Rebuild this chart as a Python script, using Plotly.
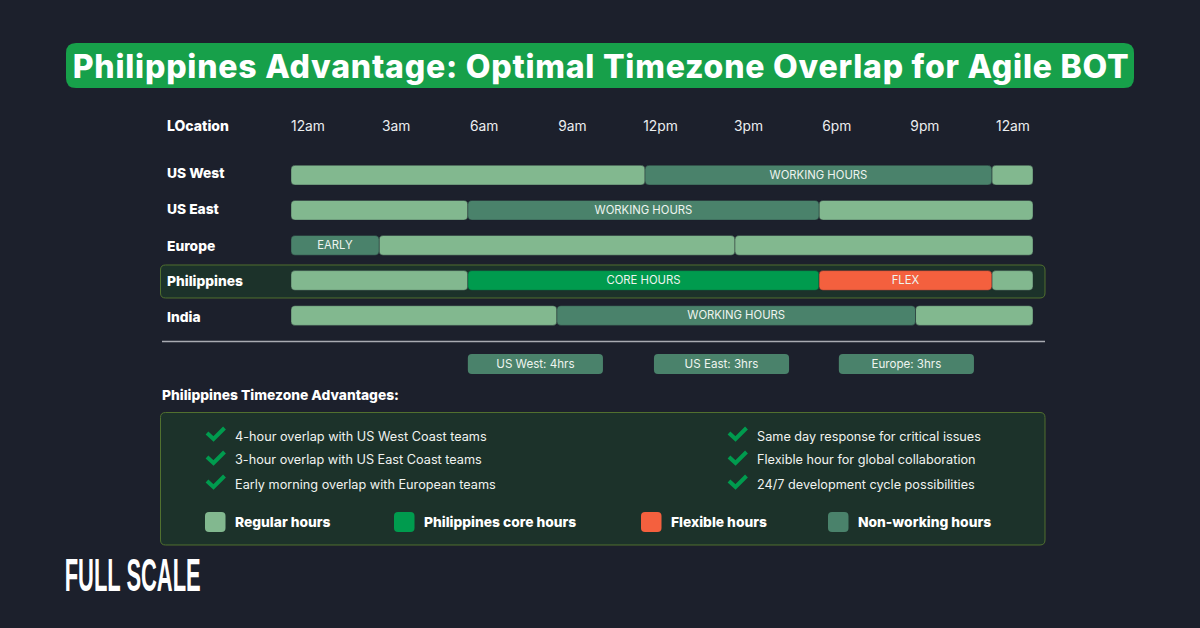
"""
Philippines timezone overlap chart
"""
import plotly.graph_objects as go

WIDTH = 1200
HEIGHT = 628

BG = "#1c202c"
REGULAR = "#82b88f"
WORKING = "#4a826b"
CORE = "#009b4e"
FLEX = "#f4603e"
PANEL = "#1c322a"
PANEL_LINE = "#51702f"
TITLE_GREEN = "#17a04a"
TEXT = "#ffffff"
BAR_TEXT = "#eef4ef"
FONT = "Inter"

title = "Philippines Advantage: Optimal Timezone Overlap for Agile BOT"

rows = ["US West", "US East", "Europe", "Philippines", "India"]
hour_ticks = [0, 3, 6, 9, 12, 15, 18, 21, 24]
hour_labels = ["12am", "3am", "6am", "9am", "12pm", "3pm", "6pm", "9pm", "12am"]

# segments, hours on the bar scale
seg_row = ["US West", "US West", "US West",
           "US East", "US East", "US East",
           "Europe", "Europe", "Europe",
           "Philippines", "Philippines", "Philippines", "Philippines",
           "India", "India", "India"]
seg_start = [0, 11.45, 22.67,
             0, 5.72, 17.08,
             0, 2.85, 14.36,
             0, 5.72, 17.08, 22.67,
             0, 8.6, 20.2]
seg_end = [11.45, 22.67, 24,
           5.72, 17.08, 24,
           2.85, 14.36, 24,
           5.72, 17.08, 22.67, 24,
           8.6, 20.2, 24]
seg_kind = ["regular", "working", "regular",
            "regular", "working", "regular",
            "working", "regular", "regular",
            "regular", "core", "flex", "regular",
            "regular", "working", "regular"]
seg_label = ["", "WORKING HOURS", "",
             "", "WORKING HOURS", "",
             "EARLY", "", "",
             "", "CORE HOURS", "FLEX", "",
             "", "WORKING HOURS", ""]
kind_colors = {"regular": REGULAR, "working": WORKING, "core": CORE, "flex": FLEX}

overlap_labels = ["US West: 4hrs", "US East: 3hrs", "Europe: 3hrs"]
overlap_start = [5.72, 11.74, 17.72]
overlap_span = [4.37, 4.37, 4.37]

advantages_left = ["4-hour overlap with US West Coast teams",
                   "3-hour overlap with US East Coast teams",
                   "Early morning overlap with European teams"]
advantages_right = ["Same day response for critical issues",
                    "Flexible hour for global collaboration",
                    "24/7 development cycle possibilities"]
legend_labels = ["Regular hours", "Philippines core hours", "Flexible hours", "Non-working hours"]
legend_colors = [REGULAR, CORE, FLEX, WORKING]
legend_x = [205, 394, 641, 828]


def px(x):
    return x / WIDTH


def py(y):
    return 1 - y / HEIGHT


def rounded(x0, y0, x1, y1, r):
    """Rounded box in paper coordinates, given in pixels."""
    pts = [("M", x0 + r, y0), ("L", x1 - r, y0), ("Q", x1, y0, x1, y0 + r),
           ("L", x1, y1 - r), ("Q", x1, y1, x1 - r, y1), ("L", x0 + r, y1),
           ("Q", x0, y1, x0, y1 - r), ("L", x0, y0 + r), ("Q", x0, y0, x0 + r, y0)]
    out = []
    for p in pts:
        coords = [f"{px(v):.5f}" if i % 2 == 0 else f"{py(v):.5f}" for i, v in enumerate(p[1:])]
        out.append(p[0] + " " + " ".join(coords))
    return " ".join(out) + " Z"


def box(x0, y0, x1, y1, r, fill, line=None, width=1):
    return dict(type="path", xref="paper", yref="paper", path=rounded(x0, y0, x1, y1, r),
                fillcolor=fill, line=dict(color=line or fill, width=width if line else 0),
                layer="below")


def check(x, y):
    path = (f"M {px(x + 2):.5f} {py(y + 7):.5f} L {px(x + 8.5):.5f} {py(y + 13):.5f} "
            f"L {px(x + 19.5):.5f} {py(y + 2):.5f}")
    return dict(type="path", xref="paper", yref="paper", path=path,
                line=dict(color=CORE, width=4), fillcolor="rgba(0,0,0,0)")


def label(x, y, text, size, bold=False, color=TEXT, xanchor="left", family=FONT):
    # annotations carry a 2px pad, take it off for left aligned text
    x = x - 2 if xanchor == "left" else x
    return dict(xref="paper", yref="paper", x=px(x), y=py(y), text=text, showarrow=False,
                xanchor=xanchor, yanchor="middle",
                font=dict(family=family, size=size, color=color, weight=800 if bold else 400))


fig = go.Figure()

for kind, color in kind_colors.items():
    idx = [i for i, k in enumerate(seg_kind) if k == kind]
    fig.add_bar(
        y=[seg_row[i] for i in idx],
        x=[seg_end[i] - seg_start[i] for i in idx],
        base=[seg_start[i] for i in idx],
        orientation="h",
        width=0.56,
        text=[seg_label[i] for i in idx],
        marker=dict(color=color, line=dict(color=BG, width=0.4)),
        textposition="inside",
        insidetextanchor="middle",
        textangle=0,
        constraintext="none",
        textfont=dict(family=FONT, size=11.6, color=BAR_TEXT),
        hoverinfo="skip",
        showlegend=False,
    )

fig.add_bar(
    y=["overlap"] * len(overlap_labels),
    x=overlap_span,
    base=overlap_start,
    orientation="h",
    width=1,
    yaxis="y2",
    text=overlap_labels,
    marker=dict(color=WORKING, line=dict(width=0)),
    textposition="inside",
    insidetextanchor="middle",
    textangle=0,
    constraintext="none",
    textfont=dict(family=FONT, size=11.6, color=BAR_TEXT),
    hoverinfo="skip",
    showlegend=False,
)

# keeps the header axis alive, nothing visible
fig.add_scatter(
    x=hour_ticks,
    y=[rows[0]] * len(hour_ticks),
    xaxis="x2",
    mode="markers",
    marker=dict(opacity=0),
    hoverinfo="skip",
    showlegend=False,
)

shapes = [
    box(66, 43, 1134, 88, 10, TITLE_GREEN),
    box(160.5, 265, 1045, 298, 5, PANEL, PANEL_LINE),
    dict(type="line", xref="paper", yref="paper", x0=px(162), x1=px(1045), y0=py(341.5), y1=py(341.5),
         line=dict(color="#a9abb2", width=1.3)),
    box(160.5, 412.5, 1045, 545, 5, PANEL, PANEL_LINE),
]

annotations = [
    label(600, 66.5, title, 32, bold=True, xanchor="center"),
    label(167, 125, "LOcation", 14, bold=True),
    label(162, 394.5, "Philippines Timezone Advantages:", 13.8, bold=True),
    label(132, 575, "FULL SCALE", 46, bold=True, xanchor="center", family="Liberation Sans"),
]

for name, y in zip(rows, [173, 209, 245.5, 281, 317]):
    annotations.append(label(167, y, name, 13.8, bold=True))

for n, y in enumerate([436, 460, 484]):
    annotations.append(label(235, y, advantages_left[n], 12.7, color="#f0f2f0"))
    annotations.append(label(757, y, advantages_right[n], 12.7, color="#f0f2f0"))
    shapes.append(check(205, y - 10))
    shapes.append(check(727, y - 10))

for n, x in enumerate(legend_x):
    shapes.append(box(x, 512, x + 20.5, 532, 4, legend_colors[n]))
    annotations.append(label(x + 30, 521.5, legend_labels[n], 13.8, bold=True))

# bar scale runs 291..1033 px; header ticks sit on their own slightly tighter scale
x_domain = [px(291), px(1033)]
tick_step = (1013 - 308) / 24

fig.update_layout(
    width=WIDTH,
    height=HEIGHT,
    margin=dict(l=0, r=0, t=0, b=0),
    paper_bgcolor=BG,
    plot_bgcolor="rgba(0,0,0,0)",
    barmode="overlay",
    barcornerradius=4,
    showlegend=False,
    shapes=shapes,
    annotations=annotations,
    font=dict(family=FONT, color=TEXT),
    xaxis=dict(domain=x_domain, range=[0, 24], visible=False, fixedrange=True),
    xaxis2=dict(
        domain=x_domain,
        overlaying="x",
        side="top",
        anchor="free",
        position=py(134),
        range=[(291 - 308) / tick_step, (1033 - 308) / tick_step],
        tickmode="array",
        tickvals=hour_ticks,
        ticktext=hour_labels,
        tickfont=dict(family=FONT, size=13.8, color="#eceef0"),
        showgrid=False,
        zeroline=False,
        showline=False,
        ticks="",
        fixedrange=True,
    ),
    yaxis=dict(
        domain=[py(333.1), py(157.6)],
        range=[4.5, -0.5],
        type="category",
        categoryorder="array",
        categoryarray=rows,
        visible=False,
        fixedrange=True,
    ),
    yaxis2=dict(
        domain=[py(374), py(354)],
        range=[-0.5, 0.5],
        type="category",
        anchor="x",
        visible=False,
        fixedrange=True,
    ),
)

# title is letter spaced and the logo is condensed in the original
post = """
document.body.style.margin = '0';
document.querySelectorAll('.annotation-text').forEach(function (t) {
  if (t.textContent.indexOf('Philippines Advantage') === 0) {
    t.setAttribute('textLength', '1056');
    t.setAttribute('lengthAdjust', 'spacing');
  }
  if (t.textContent === 'FULL SCALE') {
    t.setAttribute('textLength', '136');
    t.setAttribute('lengthAdjust', 'spacingAndGlyphs');
  }
});
"""

fig.write_html("out.html", config={"displayModeBar": False}, post_script=post)
